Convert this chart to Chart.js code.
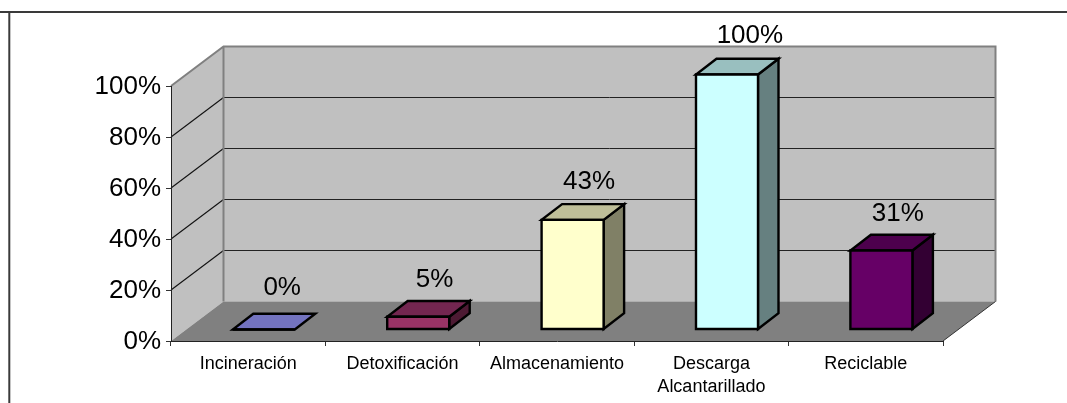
<!DOCTYPE html>
<html><head><meta charset="utf-8">
<style>html,body{margin:0;padding:0;background:#fff}canvas{display:block}</style>
<script src="https://cdn.jsdelivr.net/npm/chart.js@4"></script>
</head><body><canvas id="c" width="1067" height="403"></canvas>
<script>
const categories = ["Incineración","Detoxificación","Almacenamiento",["Descarga","Alcantarillado"],"Reciclable"];
const values = [0,5,43,100,31];
const frontColors = ["#9999FF","#993366","#FFFFCC","#CCFFFF","#660066"];
const topColors   = ["#7373BF","#732650","#BFBF99","#99BFBF","#4D004D"];
const sideColors  = ["#4D4D80","#4D1A33","#808066","#668080","#330033"];
const yTicks = [0,20,40,60,80,100];

const FONT = '"Liberation Sans", Arial, sans-serif';
const wall = {dx:52.5, dy:-39.5};
const barShift = {dx:15.6, dy:-11.5};
const barDepth = {dx:20.5, dy:-15.75};
const labelShift = {dx:16.4, dy:-38.5};
const labelNudgeX = [2,0,0,6.5,0];
const labelNudgeY = [-3,2,0,0,2];
const BAR_LW = 2.4;

function poly(ctx, pts, fill, stroke, lw){
  ctx.beginPath();
  pts.forEach((p,i)=> i?ctx.lineTo(p[0],p[1]):ctx.moveTo(p[0],p[1]));
  ctx.closePath();
  if(fill){ctx.fillStyle=fill;ctx.fill();}
  if(stroke){ctx.strokeStyle=stroke;ctx.lineWidth=lw;ctx.lineJoin='miter';ctx.stroke();}
}
function seg(ctx,x1,y1,x2,y2,c,lw){
  ctx.beginPath();ctx.moveTo(x1,y1);ctx.lineTo(x2,y2);ctx.strokeStyle=c;ctx.lineWidth=lw;ctx.stroke();
}
const box3d = {
  id:'box3d',
  beforeDraw(chart){
    const {ctx,chartArea:a,scales:{y}} = chart;
    const L=a.left,R=a.right,T=a.top,B=a.bottom,dx=wall.dx,dy=wall.dy;
    ctx.save();
    seg(ctx,0,12,1067,12,'#3a3a3a',2);
    seg(ctx,9.3,12,9.3,403,'#3a3a3a',2);
    poly(ctx,[[L,B],[L+dx,B+dy],[L+dx,T+dy],[L,T]],'#C0C0C0');
    poly(ctx,[[L+dx,B+dy],[R+dx,B+dy],[R+dx,T+dy],[L+dx,T+dy]],'#C0C0C0');
    yTicks.forEach(v=>{
      if(v===0||v===100) return;
      const p=y.getPixelForValue(v);
      seg(ctx,L,p,L+dx,p+dy,'#111',1.1);
      seg(ctx,L+dx,p+dy,R+dx,p+dy,'#222',1);
    });
    ctx.beginPath();
    ctx.moveTo(L,T);ctx.lineTo(L+dx,T+dy);ctx.lineTo(R+dx,T+dy);ctx.lineTo(R+dx,B+dy);
    ctx.moveTo(L+dx,T+dy);ctx.lineTo(L+dx,B+dy);
    ctx.strokeStyle='#808080';ctx.lineWidth=2;ctx.stroke();
    poly(ctx,[[L,B],[L+dx,B+dy],[R+dx,B+dy],[R,B]],'#808080');
    seg(ctx,R,B,R+dx,B+dy,'#333',1);
    ctx.restore();
  },
  beforeDatasetsDraw(chart){
    const ctx=chart.ctx, els=chart.getDatasetMeta(0).data;
    ctx.save();
    ctx.translate(barShift.dx,barShift.dy);
    els.forEach((el,i)=>{
      const l=el.x-el.width/2,r=el.x+el.width/2,top=el.y,b=el.base,d=barDepth;
      if(b-top>0.5) poly(ctx,[[r,top],[r+d.dx,top+d.dy],[r+d.dx,b+d.dy],[r,b]],sideColors[i],'#000',BAR_LW);
      poly(ctx,[[l,top],[r,top],[r+d.dx,top+d.dy],[l+d.dx,top+d.dy]],topColors[i],'#000',BAR_LW);
    });
  },
  afterDatasetsDraw(chart){
    const ctx=chart.ctx, els=chart.getDatasetMeta(0).data;
    els.forEach((el)=>{
      const l=el.x-el.width/2,r=el.x+el.width/2;
      poly(ctx,[[l,el.y],[r,el.y],[r,el.base],[l,el.base]],null,'#000',BAR_LW);
    });
    ctx.restore();
    ctx.save();
    ctx.font='26px '+FONT;ctx.fillStyle='#000';ctx.textAlign='center';ctx.textBaseline='middle';
    els.forEach((el,i)=>{
      ctx.fillText(values[i]+'%',el.x+barShift.dx+labelShift.dx+labelNudgeX[i],el.y+barShift.dy+labelShift.dy+labelNudgeY[i]);
    });
    ctx.restore();
  }
};
new Chart(document.getElementById('c'),{
  type:'bar',
  data:{labels:categories,datasets:[{data:values,backgroundColor:frontColors,borderWidth:0,barPercentage:0.4016,categoryPercentage:1,clip:false}]},
  plugins:[box3d],
  options:{
    responsive:false,animation:false,
    layout:{padding:{top:86,right:124,left:0,bottom:0}},
    plugins:{legend:{display:false},tooltip:{enabled:false},title:{display:false}},
    scales:{
      x:{
        afterFit(s){s.height=62;},
        grid:{display:true,drawOnChartArea:false,drawTicks:true,tickLength:5,color:'#333',offset:true},
        border:{display:true,color:'#222',width:1},
        ticks:{color:'#000',font:{family:FONT,size:18,lineHeight:1.3},padding:6,maxRotation:0,autoSkip:false}
      },
      y:{
        min:0,max:100,
        afterFit(s){s.width=171;},
        afterBuildTicks(s){s.ticks=yTicks.map(v=>({value:v}));},
        grid:{display:true,drawOnChartArea:false,drawTicks:true,tickLength:5,color:'#333'},
        border:{display:true,color:'#222',width:1},
        ticks:{color:'#000',font:{family:FONT,size:26},padding:5,labelOffset:1,callback:v=>v+'%'}
      }
    }
  }
});
</script></body></html>
